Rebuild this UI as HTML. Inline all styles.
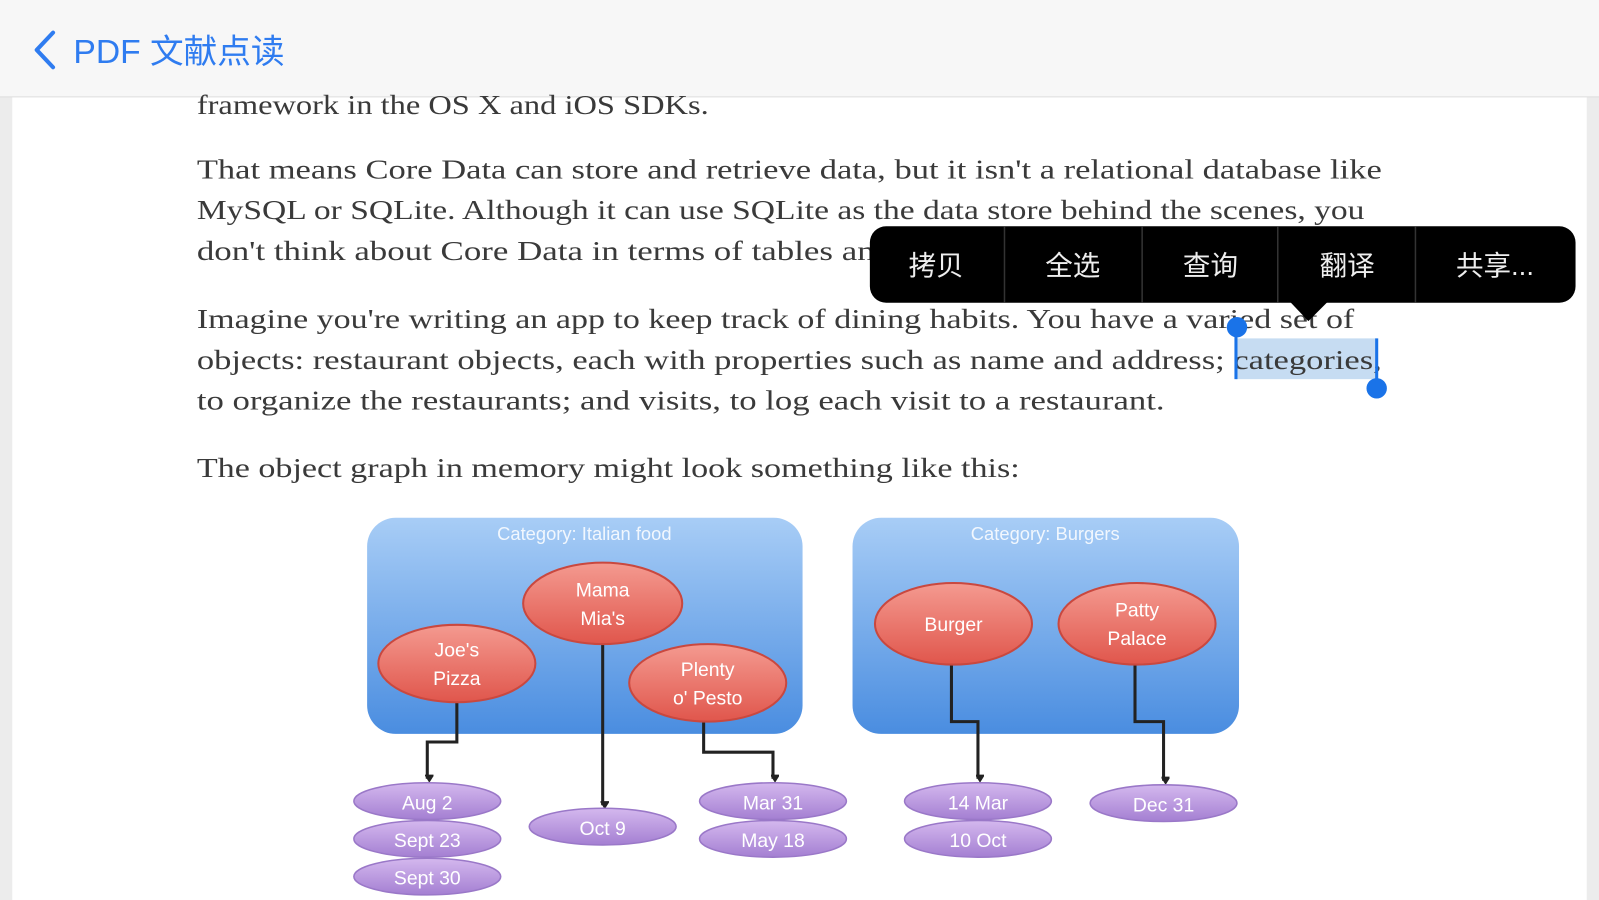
<!DOCTYPE html>
<html><head><meta charset="utf-8"><style>
html,body{margin:0;padding:0;width:1599px;height:900px;overflow:hidden;background:#fff}
svg{display:block}
.t{font-family:"Liberation Serif",serif;font-size:27px;fill:#3a3a3a}
.w{font-family:"Liberation Sans",sans-serif;fill:#fff;text-anchor:middle}
.m{font-family:"Liberation Sans","Noto Sans CJK SC",sans-serif;fill:#eee;font-size:27px;text-anchor:middle}
</style></head><body>
<svg width="1599" height="900" viewBox="0 0 1568 883" preserveAspectRatio="none">
<defs>
<linearGradient id="bg" x1="0" y1="0" x2="0" y2="1"><stop offset="0" stop-color="#a8cdf6"/><stop offset="1" stop-color="#4a8de0"/></linearGradient>
<linearGradient id="rg" x1="0" y1="0" x2="0" y2="1"><stop offset="0" stop-color="#f49a90"/><stop offset="1" stop-color="#e0564c"/></linearGradient>
<linearGradient id="pg" x1="0" y1="0" x2="0" y2="1"><stop offset="0" stop-color="#d4b8ee"/><stop offset="1" stop-color="#a47fd2"/></linearGradient>
<marker id="ar" markerWidth="8" markerHeight="8" refX="4" refY="6" orient="auto" markerUnits="userSpaceOnUse"><path d="M-1,0 L9,0 L4,8 Z" fill="#222" transform="rotate(-90 4 4)"/></marker>
</defs>
<rect x="0" y="0" width="1568" height="883" fill="#ececec"/>
<rect x="12" y="95" width="1544" height="800" fill="#fff"/>
<rect x="0" y="0" width="1568" height="95" fill="#f7f7f7"/>
<line x1="0" y1="95" x2="1568" y2="95" stroke="#ddd"/>
<path d="M52,32 L36,49 L52,66" fill="none" stroke="#2f7cf0" stroke-width="4" stroke-linecap="round" stroke-linejoin="round"/>
<text x="72" y="62" font-family="Liberation Sans,'Noto Sans CJK SC',sans-serif" font-size="33" fill="#2f7cf0">PDF 文献点读</text>

<text class="t" x="193" y="112" textLength="502" lengthAdjust="spacingAndGlyphs">framework in the OS X and iOS SDKs.</text>
<text class="t" x="193" y="175" textLength="1162" lengthAdjust="spacingAndGlyphs">That means Core Data can store and retrieve data, but it isn't a relational database like</text>
<text class="t" x="193" y="215" textLength="1145" lengthAdjust="spacingAndGlyphs">MySQL or SQLite. Although it can use SQLite as the data store behind the scenes, you</text>
<text class="t" x="193" y="255" textLength="1080" lengthAdjust="spacingAndGlyphs">don't think about Core Data in terms of tables and rows but in terms of objects.</text>
<rect x="1212" y="332" width="138" height="40" fill="#c6dcf2"/>
<text class="t" x="193" y="322" textLength="1135" lengthAdjust="spacingAndGlyphs">Imagine you're writing an app to keep track of dining habits. You have a varied set of</text>
<text class="t" x="193" y="362" textLength="1162" lengthAdjust="spacingAndGlyphs">objects: restaurant objects, each with properties such as name and address; categories,</text>
<text class="t" x="193" y="402" textLength="949" lengthAdjust="spacingAndGlyphs">to organize the restaurants; and visits, to log each visit to a restaurant.</text>
<text class="t" x="193" y="468" textLength="807" lengthAdjust="spacingAndGlyphs">The object graph in memory might look something like this:</text>
<line x1="1212" y1="320" x2="1212" y2="372" stroke="#1a73e8" stroke-width="3"/>
<circle cx="1213" cy="321" r="10" fill="#1a73e8"/>
<line x1="1350" y1="332" x2="1350" y2="380" stroke="#1a73e8" stroke-width="3"/>
<circle cx="1350" cy="381" r="10" fill="#1a73e8"/>

<rect x="853" y="222" width="692" height="75" rx="16" fill="#000"/>
<path d="M1265,296 L1302,296 L1283,315 Z" fill="#000"/>
<g stroke="#333" stroke-width="1.5"><line x1="985" y1="222" x2="985" y2="297"/><line x1="1120" y1="222" x2="1120" y2="297"/><line x1="1253" y1="222" x2="1253" y2="297"/><line x1="1388" y1="222" x2="1388" y2="297"/></g>
<text class="m" x="918" y="270">拷贝</text>
<text class="m" x="1052" y="270">全选</text>
<text class="m" x="1187" y="270">查询</text>
<text class="m" x="1321" y="270">翻译</text>
<text class="m" x="1466" y="270">共享...</text>

<rect x="360" y="508" width="427" height="212" rx="28" fill="url(#bg)"/>
<rect x="836" y="508" width="379" height="212" rx="28" fill="url(#bg)"/>
<text class="w" x="573" y="530" font-size="18" fill-opacity="0.85">Category: Italian food</text>
<text class="w" x="1025" y="530" font-size="18" fill-opacity="0.85">Category: Burgers</text>

<g fill="none" stroke="#222" stroke-width="3">
<path d="M448,689 L448,728 L419,728 L419,764" marker-end="url(#ar)"/>
<path d="M591,632 L591,790" marker-end="url(#ar)"/>
<path d="M690,708 L690,738 L758,738 L758,764" marker-end="url(#ar)"/>
<path d="M933,652 L933,708 L959,708 L959,764" marker-end="url(#ar)"/>
<path d="M1113,652 L1113,708 L1141,708 L1141,766" marker-end="url(#ar)"/>
</g>

<g stroke="#c9483f" stroke-width="2" fill="url(#rg)">
<ellipse cx="448" cy="651" rx="77" ry="38"/>
<ellipse cx="591" cy="592" rx="78" ry="40"/>
<ellipse cx="694" cy="670" rx="77" ry="38"/>
<ellipse cx="935" cy="612" rx="77" ry="40"/>
<ellipse cx="1115" cy="612" rx="77" ry="40"/>
</g>
<g class="w" font-size="19">
<text x="448" y="644" class="w">Joe's</text><text x="448" y="672" class="w">Pizza</text>
<text x="591" y="585" class="w">Mama</text><text x="591" y="613" class="w">Mia's</text>
<text x="694" y="663" class="w">Plenty</text><text x="694" y="691" class="w">o' Pesto</text>
<text x="935" y="619" class="w">Burger</text>
<text x="1115" y="605" class="w">Patty</text><text x="1115" y="633" class="w">Palace</text>
</g>

<g fill="url(#pg)" stroke="#9a78c8" stroke-width="1.5">
<ellipse cx="419" cy="860" rx="72" ry="18"/>
<ellipse cx="419" cy="823" rx="72" ry="18"/>
<ellipse cx="419" cy="786" rx="72" ry="18"/>
<ellipse cx="591" cy="811" rx="72" ry="18"/>
<ellipse cx="758" cy="823" rx="72" ry="18"/>
<ellipse cx="758" cy="786" rx="72" ry="18"/>
<ellipse cx="959" cy="823" rx="72" ry="18"/>
<ellipse cx="959" cy="786" rx="72" ry="18"/>
<ellipse cx="1141" cy="788" rx="72" ry="18"/>
</g>
<g font-size="19">
<text class="w" x="419" y="794">Aug 2</text>
<text class="w" x="419" y="831">Sept 23</text>
<text class="w" x="419" y="868">Sept 30</text>
<text class="w" x="591" y="819">Oct 9</text>
<text class="w" x="758" y="794">Mar 31</text>
<text class="w" x="758" y="831">May 18</text>
<text class="w" x="959" y="794">14 Mar</text>
<text class="w" x="959" y="831">10 Oct</text>
<text class="w" x="1141" y="796">Dec 31</text>
</g>
</svg>
</body></html>
